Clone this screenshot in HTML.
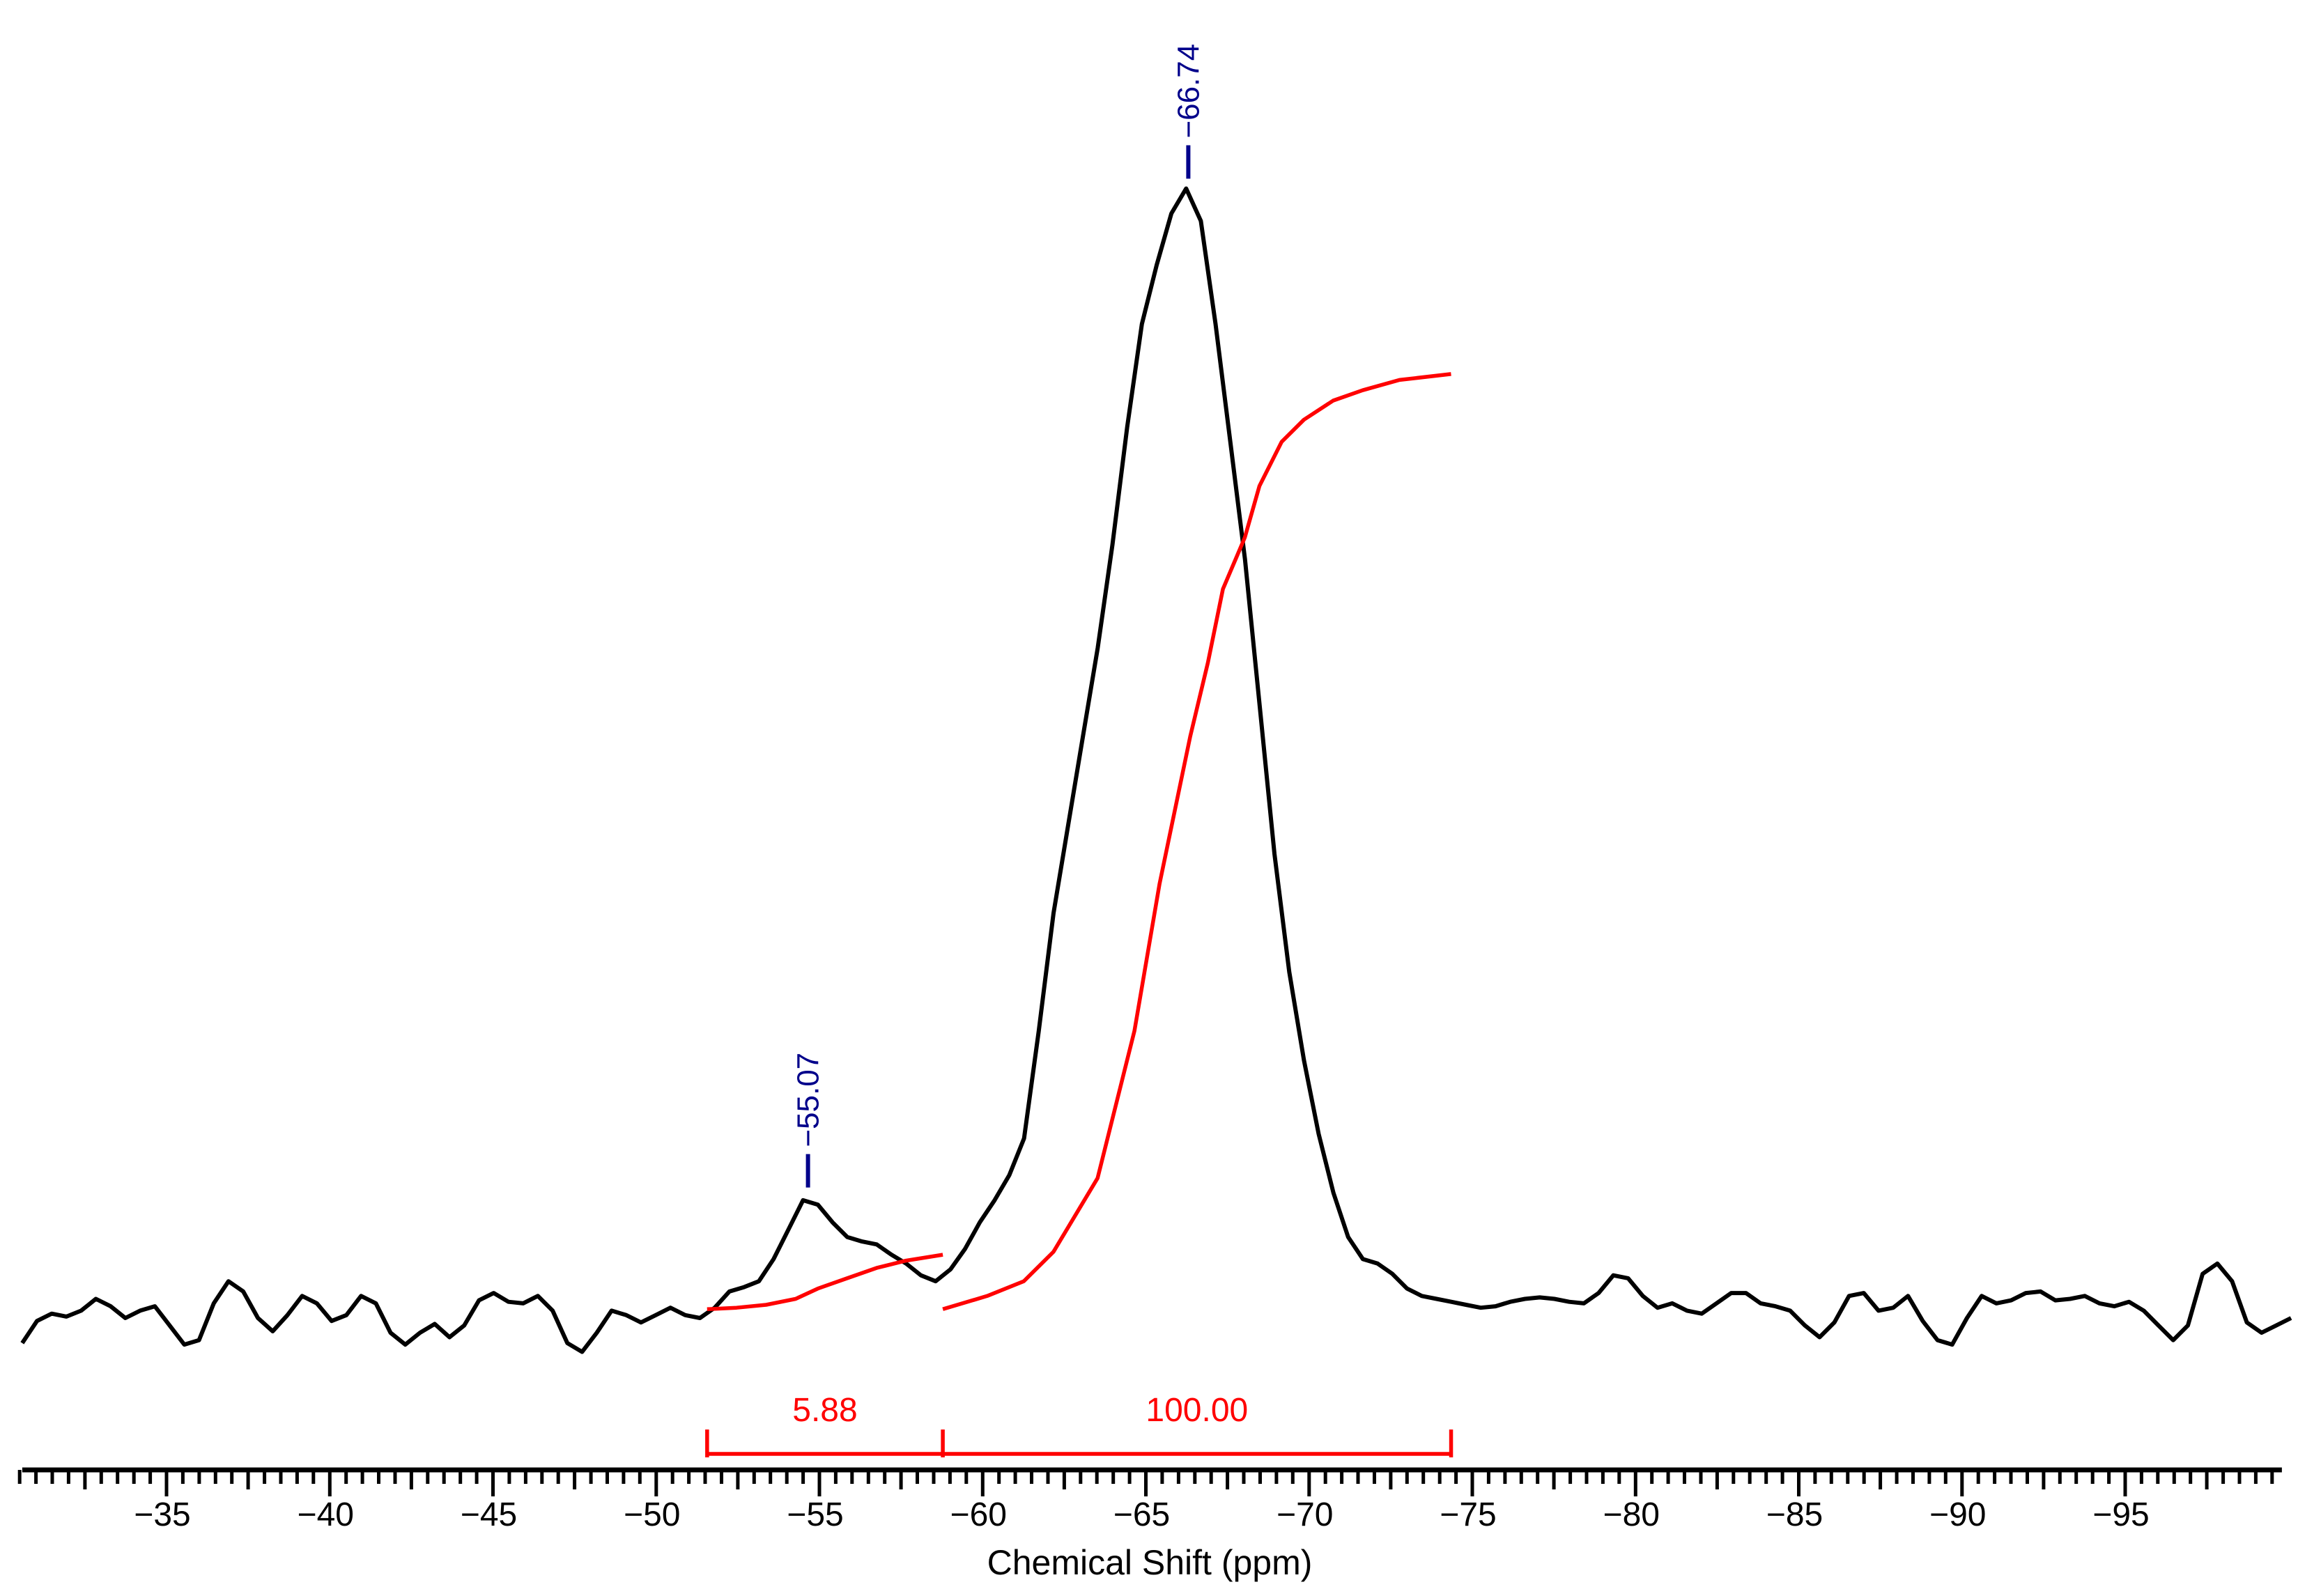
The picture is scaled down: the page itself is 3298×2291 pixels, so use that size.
<!DOCTYPE html>
<html><head><meta charset="utf-8"><style>
html,body{margin:0;padding:0;background:#fff;}
svg{display:block;font-family:"Liberation Sans",Arial,sans-serif;}
</style></head><body>
<svg id="chart" width="3298" height="2291" viewBox="0 0 3298 2291" xmlns="http://www.w3.org/2000/svg"></svg>
<script>
// ---- data ----
const ppmStart = -30.58;          // acquisition grid start (ppm)
const ppmStep = -0.4513;          // grid spacing (ppm)
const spectrum = [17,2,-3,-1,-5,-13,-8,0,-5,-8,5,18,15,-10,-25,-18,0,9,-2,-15,-10,2,-2,-15,-10,10,18,10,4,13,5,-12,-17,-11,-10,-15,-5,17,23,10,-5,-2,3,-2,-7,-2,0,-7,-18,-21,-25,-40,-60,-80,-77,-65,-55,-52,-50,-43,-37,-29,-25,-33,-47,-65,-80,-97,-122,-195,-275,-335,-395,-455,-525,-605,-675,-715,-750,-767,-745,-675,-595,-515,-415,-315,-235,-175,-125,-85,-55,-40,-37,-30,-20,-15,-13,-11,-9,-7,-8,-11,-13,-14,-13,-11,-10,-17,-29,-27,-15,-7,-10,-5,-3,-10,-17,-17,-10,-8,-5,5,13,3,-15,-17,-5,-7,-15,2,15,18,0,-15,-10,-12,-17,-18,-12,-13,-15,-10,-8,-11,-5,5,15,5,-30,-37,-25,3,10,5,0].map(v=>-v);
const integ1Ppm = [-51.56,-52.46,-53.37,-54.27,-54.95,-55.85,-56.75,-57.65,-58.78];
const integ1Val = [6,7,9,13,20,27,34,39,43];
const integ2Ppm = [-58.78,-60.14,-61.26,-62.17,-63.52,-64.65,-65.42,-66.36,-66.90,-67.36,-68.03,-68.48,-69.16,-69.84,-70.74,-71.64,-72.77,-74.35];
const integ2Val = [6,15,25,45,95,195,295,395,445,495,530,565,595,610,623,630,637,641];
const integLimits = [-51.56,-58.78,-74.35];
const integLabels = ["5.88","100.00"];
const peakPpm = [-54.65,-66.30];
const peakVal = [82,767];
const peakLabels = ["\u221255.07","\u221266.74"];
const tickValues = [-35,-40,-45,-50,-55,-60,-65,-70,-75,-80,-85,-90,-95];
// ---- scales ----
const pxPerPpm = 46.85;
const X = p => 239 + (-35 - p) * pxPerPpm;
const Y = v => 1892 - v * 2.114;
const NS = "http://www.w3.org/2000/svg";
const svg = document.getElementById('chart');
function mk(tag, attrs, parent){const e=document.createElementNS(NS,tag);for(const k in attrs)e.setAttribute(k,attrs[k]);(parent||svg).appendChild(e);return e;}

// spectrum line
let d = spectrum.map((v,i)=>(i?'L':'M')+X(ppmStart+i*ppmStep).toFixed(1)+','+Y(v).toFixed(1)).join('');
const sp = mk('path',{d:d,fill:'none',stroke:'#000','stroke-width':6,'stroke-linejoin':'round'});



// integral curves
[[integ1Ppm,integ1Val,'integral-curve-1'],[integ2Ppm,integ2Val,'integral-curve-2']].forEach(([ps,vs,nm])=>{
  const dd = ps.map((p,i)=>(i?'L':'M')+X(p).toFixed(1)+','+Y(vs[i]).toFixed(1)).join('');
  const c = mk('path',{d:dd,fill:'none',stroke:'#ff0000','stroke-width':5.5,'stroke-linejoin':'round'});
  
  
});

// integral brackets
const by = 2087;
const br = mk('path',{d:'M'+X(integLimits[0])+','+by+'L'+X(integLimits[2])+','+by,stroke:'#ff0000','stroke-width':5.5,fill:'none'});


integLimits.forEach(p=>{
  const t = mk('line',{x1:X(p),x2:X(p),y1:by-35,y2:by+5,stroke:'#ff0000','stroke-width':5.5});
  
  
});
integLabels.forEach((s,i)=>{
  const t = mk('text',{x:(X(integLimits[i])+X(integLimits[i+1]))/2,y:2040,'text-anchor':'middle','font-size':48,fill:'#ff0000'});
  t.textContent = s;
  
  
});

// peak labels
peakPpm.forEach((p,i)=>{
  const x = X(p), yt = Y(peakVal[i]) - 14;
  const l = mk('line',{x1:x,x2:x,y1:yt-48,y2:yt,stroke:'#00008b','stroke-width':6});
  
  
  const t = mk('text',{x:0,y:0,transform:'translate('+(x+15)+','+(yt-58)+') rotate(-90)','font-size':44,fill:'#00008b'});
  t.textContent = peakLabels[i];
  
  
});

// axis
const ay = 2110;
const axis = mk('line',{x1:X(-30.58),x2:X(-99.8),y1:ay,y2:ay,stroke:'#000','stroke-width':7});


let td = '';
for (let k = -61; k >= -199; k--) {
  const p = k / 2;
  let len = 20;
  if (k % 10 === 0) len = 38; else if (k % 5 === 0) len = 28;
  td += 'M'+X(p).toFixed(1)+','+ay+'v'+len;
}
const ticks = mk('path',{d:td,stroke:'#000','stroke-width':5,fill:'none'});


tickValues.forEach(v=>{
  const t = mk('text',{x:X(v)-6,y:2190,'text-anchor':'middle','font-size':48,fill:'#000'});
  t.textContent = '\u2212' + Math.abs(v);
  
  
});
const title = mk('text',{x:1650,y:2260,'text-anchor':'middle','font-size':50,fill:'#000'});
title.textContent = 'Chemical Shift (ppm)';


</script>
</body></html>
